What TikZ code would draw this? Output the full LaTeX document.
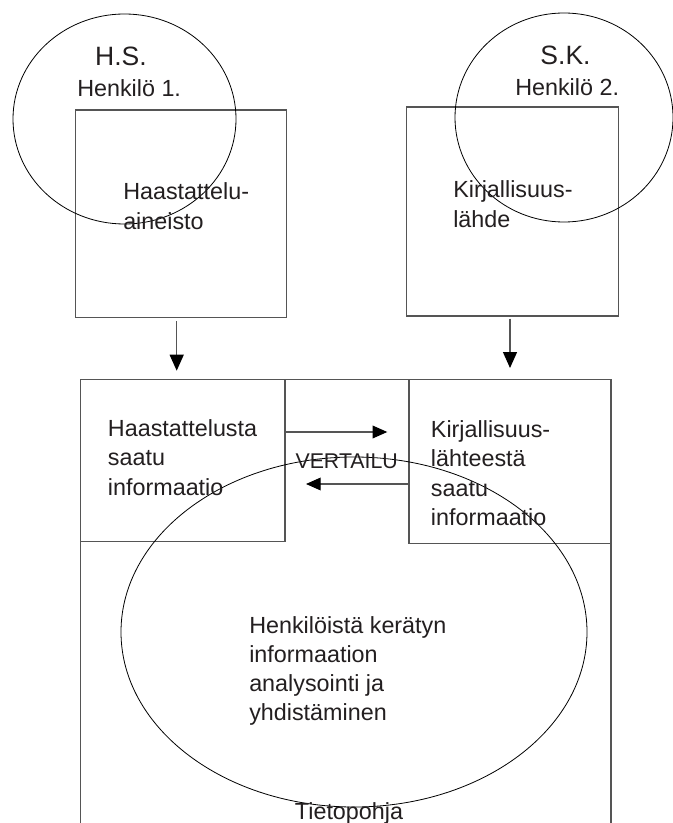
\documentclass[tikz,border=0pt]{standalone}
\usepackage{fontspec}
\setmainfont{Liberation Sans}
\usetikzlibrary{arrows.meta}
\definecolor{txt}{HTML}{231F20}
\definecolor{boxline}{HTML}{555555}
\begin{document}
\begin{tikzpicture}[x=0.75pt,y=-0.75pt,
  boxnode/.style={draw=boxline,line width=1pt,rectangle,inner sep=0pt},
  ring/.style={draw=black,line width=0.6pt},
  arr/.style={draw=boxline,line width=1pt,-{Triangle[length=12pt,width=10.5pt,color=black]}},
  harr/.style={draw=boxline,line width=1pt,-{Triangle[length=11pt,width=9.5pt,color=black]}},
  lbl/.style={inner sep=0pt,text=txt,font=\fontsize{17.5pt}{21.75pt}\selectfont,align=left},
  lbltop/.style={inner sep=0pt,text=txt,font=\fontsize{17.5pt}{22.5pt}\selectfont,align=left},
  biglbl/.style={inner sep=0pt,text=txt,font=\fontsize{19.9pt}{24pt}\selectfont}]
\useasboundingbox (0,0) rectangle (672,823);
\fill[white] (0,0) rectangle (672,823);

% upper boxes
\node[boxnode,minimum width=158.25pt,minimum height=155.5pt] (b1) at (181.2,213.7) {};
\node[boxnode,minimum width=158.7pt,minimum height=156.75pt] (b2) at (512.5,211.5) {};

% big frame (open at the bottom edge of the picture)
\coordinate (fbl) at (80.7,823);
\coordinate (ftl) at (80.7,379.5);
\coordinate (ftr) at (611,379.5);
\coordinate (fbr) at (611,823);
\draw[draw=boxline,line width=1pt] (fbl) -- (ftl) -- (ftr) -- (fbr);

% inner boxes
\node[boxnode,minimum width=153.2pt,minimum height=121.65pt] (ib1) at (182.85,460.6) {};
\node[boxnode,minimum width=151.5pt,minimum height=122.85pt] (ib2) at (510,461.4) {};

% vertical arrows
\coordinate (t1) at (176.7,370.7);
\coordinate (t2) at (510,368);
\draw[arr] ([yshift=-2.5pt]b1.south -| t1) -- (t1);
\draw[arr] ([yshift=-1.5pt]b2.south -| t2) -- (t2);

% horizontal arrows
\coordinate (h1) at (387.3,432);
\coordinate (h2) at (306,484);
\draw[harr] (ib1.east |- h1) -- (h1);
\draw[harr] (ib2.west |- h2) -- (h2);

% circles and ellipse
\coordinate (c1) at (124.5,119);
\coordinate (c2) at (564,117.5);
\coordinate (c3) at (354,632);
\draw[ring] (c1) ellipse [x radius=111.5, y radius=105];
\draw[ring] (c2) ellipse [x radius=109, y radius=104.5];
\draw[ring] (c3) ellipse [x radius=233, y radius=175];

% texts
\node[biglbl,anchor=base] (hs) at (121,65.7) {H.S.};
\node[lbl,anchor=base west] (p1) at (77,96.7) {Henkilö 1.};
\node[biglbl,anchor=base] (sk) at (565.5,65) {S.K.};
\node[lbl,anchor=base west] (p2) at (515,96) {Henkilö 2.};

\node[lbltop,anchor=base west] (l1a) at (123,199.3) {Haastattelu-};
\node[lbltop,anchor=base west] (l1b) at (123,229.3) {aineisto};
\node[lbltop,anchor=base west] (l2a) at (453,198) {Kirjallisuus-};
\node[lbltop,anchor=base west] (l2b) at (453,228) {lähde};

\node[lbl,anchor=base west] (i1a) at (107.7,436.7) {Haastattelusta};
\node[lbl,anchor=base west] (i1b) at (107.7,465.9) {saatu};
\node[lbl,anchor=base west] (i1c) at (107.7,495.1) {informaatio};

\node[lbl,anchor=base west] (i2a) at (430.7,437.3) {Kirjallisuus-};
\node[lbl,anchor=base west] (i2b) at (430.7,466.7) {lähteestä};
\node[lbl,anchor=base west] (i2c) at (430.7,496.5) {saatu};
\node[lbl,anchor=base west] (i2d) at (430.7,525.7) {informaatio};

\node[lbl,anchor=base,font=\fontsize{16pt}{20pt}\selectfont] (vt) at (346.7,468.3) {VERTAILU};

\node[lbl,anchor=base west] (e1) at (249,633.3) {Henkilöistä kerätyn};
\node[lbl,anchor=base west] (e2) at (249,662.5) {informaation};
\node[lbl,anchor=base west] (e3) at (249,691.5) {analysointi ja};
\node[lbl,anchor=base west] (e4) at (249,720.3) {yhdistäminen};

\node[lbl,anchor=base] (tp) at (349,819.5) {Tietopohja};
\end{tikzpicture}
\end{document}
